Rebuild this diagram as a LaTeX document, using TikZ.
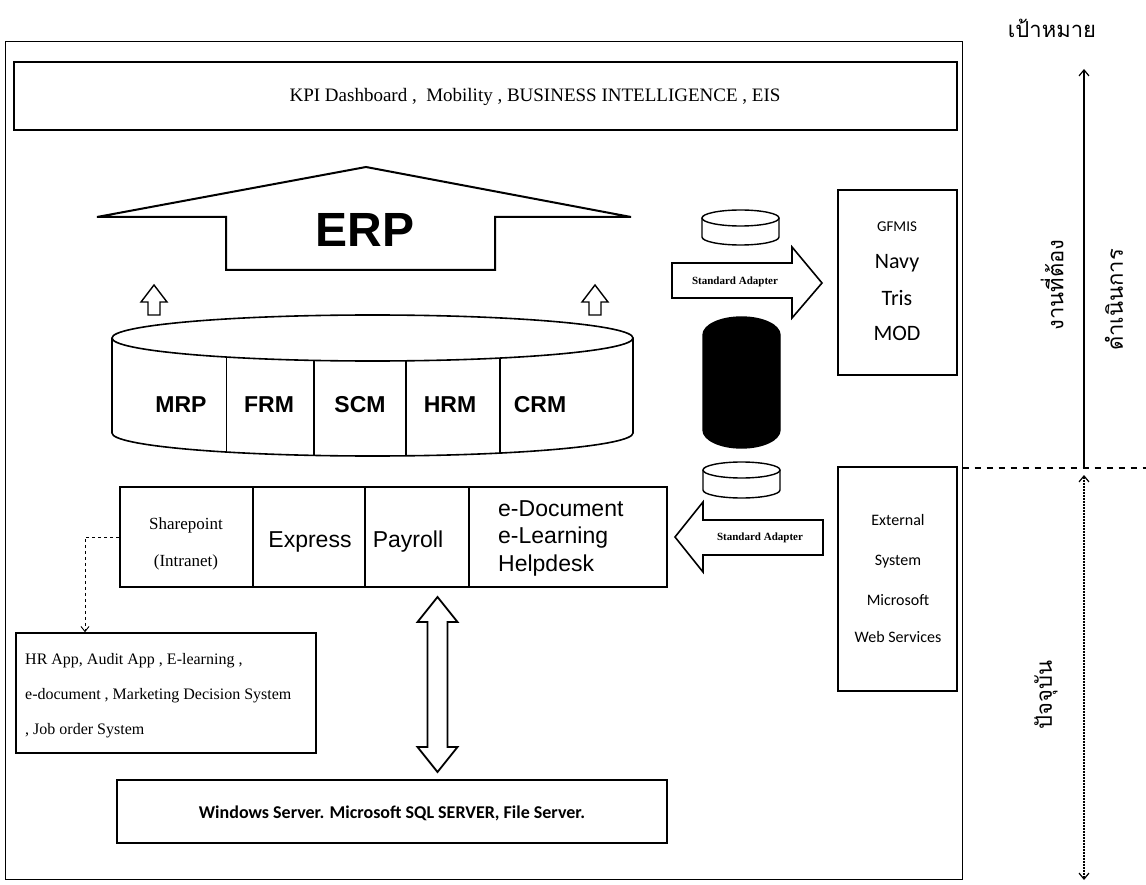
\documentclass[tikz,border=0pt]{standalone}
\usepackage{fontspec}
\setmainfont{Liberation Serif}
\newfontfamily\arialf{Liberation Sans}
\newfontfamily\calf{Carlito}
\newfontfamily\thaif[Script=Thai]{Loma}
\usetikzlibrary{arrows.meta}
\newcommand\fsz[2]{\fontsize{#1}{#2}\selectfont}
\begin{document}
\begin{tikzpicture}[x=1pt,y=-1pt,line join=miter,
  box/.style={draw,line width=1.6pt,fill=white,inner sep=0pt},
  blk/.style={draw,line width=1.6pt,fill=white},
  lbl/.style={inner sep=0pt},
  modl/.style={lbl,font=\arialf\bfseries\fsz{23}{23}},
  cell/.style={lbl,font=\arialf\fsz{23}{27.5}},
  tnr/.style={lbl,font=\fsz{17}{37}},
  adapt/.style={lbl,font=\bfseries\fsz{11}{11}},
  side/.style={lbl,font=\calf\fsz{22}{22}},
  ext/.style={lbl,font=\calf\fsz{16}{16}},
  thai/.style={lbl,font=\thaif\fsz{22}{22}},
  barb/.style={-{Straight Barb[length=6pt,width=10pt]}}]
\useasboundingbox (0,0) rectangle (1146,885);
\fill[white] (0,0) rectangle (1146,885);

% outer frame
\node[draw,line width=1pt,minimum width=957,minimum height=837,inner sep=0pt] (frame) at (483.5,460.5) {};

% KPI box
\node[box,line width=2pt,minimum width=943,minimum height=68] (kpi) at (485.5,96) {};
\node[lbl,font=\fsz{19}{19}] (kpit) at (535,97) {KPI Dashboard ,\ \ Mobility , BUSINESS INTELLIGENCE , EIS};

% ERP arrow
\draw[blk,line width=2pt] (97,217) -- (366,167) -- (631,217) -- (495,217) -- (495,270) -- (226,270) -- (226,217) -- cycle;
\node[lbl,font=\arialf\bfseries\fsz{48}{48}] (erp) at (365,230) {ERP};

% small up arrows
\foreach \ax in {154,595}{
  \draw[blk,line width=1.4pt] (\ax,285) -- (\ax+13,302) -- (\ax+6,302) -- (\ax+6,315) -- (\ax-6,315) -- (\ax-6,302) -- (\ax-13,302) -- cycle;
}

% ERP module cylinder
\draw[blk] (112,338) -- (112,433) arc[start angle=180,end angle=360,x radius=260.5pt,y radius=23pt] -- (633,338);
\draw[blk] (372.5,338) ellipse[x radius=260.5pt,y radius=23pt];
\foreach \dx in {226.5,314,406,500}{
  \pgfmathsetmacro\dy{23*sqrt(1-((\dx-372.5)/260.5)^2)}
  \draw[line width=1.2pt] (\dx,338+\dy) -- (\dx,433+\dy);
}
\node[modl] (mrp) at (181,405) {MRP};
\node[modl] (frm) at (269,405) {FRM};
\node[modl] (scm) at (360,405) {SCM};
\node[modl] (hrm) at (450,405) {HRM};
\node[modl] (crm) at (540,405) {CRM};

% middle application row
\node[box,minimum width=133,minimum height=100] (c1) at (186.5,537) {};
\node[box,minimum width=112,minimum height=100] (c2) at (309,537) {};
\node[box,minimum width=104,minimum height=100] (c3) at (417,537) {};
\node[box,minimum width=198,minimum height=100] (c4) at (568,537) {};
\node[tnr,align=center] (c1t) at (186,544) {Sharepoint\\(Intranet)};
\node[cell] (c2t) at (310,542) {Express};
\node[cell] (c3t) at (408,542) {Payroll};
\node[cell,align=left,anchor=west] (c4t) at (498,538) {e-Document\\e-Learning\\Helpdesk};

% HR box and dashed connector
\node[box,minimum width=300,minimum height=120] (hr) at (166,693) {};
\node[lbl,font=\fsz{16}{35},align=left,anchor=west] (hrt) at (25,696) {HR App, Audit App , E-learning ,\\e-document , Marketing Decision System\\, Job order System};
\coordinate (dk) at (85,537);
\draw[dashed,line width=0.9pt,-{Straight Barb[length=5pt,width=8pt]}] (c1.west) -- (dk) -- (dk |- hr.north);

% double arrow and server box
\node[box,minimum width=550,minimum height=63] (srv) at (392,811.5) {};
\node[lbl,font=\calf\bfseries\fsz{18}{18}] (srvt) at (392,813) {Windows Server. Microsoft SQL SERVER, File Server.};
\draw[blk,line width=1.8pt] (437.5,597) -- (457.5,622) -- (447.5,622) -- (447.5,747) -- (457.5,747) -- (437.5,772) -- (417.5,747) -- (427.5,747) -- (427.5,622) -- (417.5,622) -- cycle;

% right side systems
\node[box,minimum width=119,minimum height=185] (gf) at (897.5,282.5) {};
\node[lbl,font=\calf\fsz{15}{15}] (gf1) at (897,227) {GFMIS};
\node[side] (gf2) at (897,263) {Navy};
\node[side] (gf3) at (897,298) {Tris};
\node[side] (gf4) at (897,333) {MOD};
\node[box,minimum width=119,minimum height=224] (ex) at (897.5,579) {};
\node[ext] (ex1) at (898,520) {External};
\node[ext] (ex2) at (898,562) {System};
\node[ext] (ex3) at (898,600) {Microsoft};
\node[ext] (ex4) at (898,637) {Web Services};

% adapters
\draw[blk,line width=1.6pt] (672,263) -- (792,263) -- (792,247) -- (822,283) -- (792,318) -- (792,298) -- (672,298) -- cycle;
\node[adapt] (sa1) at (735,282) {Standard Adapter};
\draw[blk,line width=1.6pt] (823,520) -- (703,520) -- (703,502) -- (675,537) -- (703,572) -- (703,555) -- (823,555) -- cycle;
\node[adapt] (sa2) at (760,538) {Standard Adapter};

% database cylinders
\draw[blk,line width=1.4pt] (702,218) -- (702,237) arc[start angle=180,end angle=360,x radius=38.5pt,y radius=8pt] -- (779,218);
\draw[blk,line width=1.4pt] (740.5,218) ellipse[x radius=38.5pt,y radius=8pt];
\draw[fill=black,line width=1.4pt] (703,335) arc[start angle=180,end angle=0,x radius=38.5pt,y radius=18pt] -- (780,430) arc[start angle=0,end angle=-180,x radius=38.5pt,y radius=18pt] -- cycle;
\draw[blk,line width=1.4pt] (703,470) -- (703,490) arc[start angle=180,end angle=360,x radius=38.5pt,y radius=8pt] -- (780,470);
\draw[blk,line width=1.4pt] (741.5,470) ellipse[x radius=38.5pt,y radius=8pt];

% timeline
\coordinate (tTop) at (1084,69);
\coordinate (tMid) at (1084,468);
\coordinate (tMid2) at (1084,475);
\coordinate (tBot) at (1084,880);
\coordinate (dEnd) at (1146,468);
\draw[line width=1.2pt,barb] (tMid) -- (tTop);
\draw[line width=1.2pt,dash pattern=on 2pt off 1pt,{Straight Barb[length=6pt,width=10pt]}-{Straight Barb[length=6pt,width=10pt]}] (tMid2) -- (tBot);
\draw[line width=1.2pt,dash pattern=on 6pt off 6pt] (frame.east |- tMid) -- (dEnd);
\node[thai] (goal) at (1052,28) {เป้าหมาย};
\node[thai,rotate=90] (todo1) at (1052,285) {งานที่ต้อง};
\node[thai,rotate=90] (todo2) at (1114,300) {ดำเนินการ};
\node[thai,rotate=90] (now) at (1046,695) {ปัจจุบัน};
\end{tikzpicture}
\end{document}
